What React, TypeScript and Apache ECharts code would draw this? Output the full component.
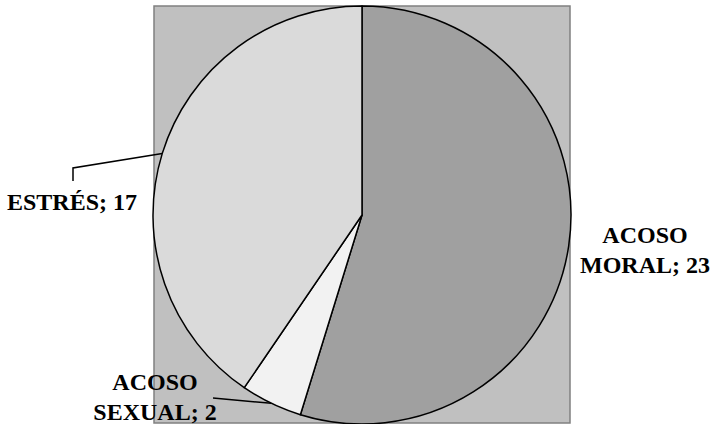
import React, { useEffect, useRef } from "react";
import * as echarts from "echarts";

// Causes and counts shown on the pie
const categories = ["ACOSO MORAL", "ACOSO SEXUAL", "ESTRÉS"];
const counts = [23, 2, 17];
const sliceColors = ["#a0a0a0", "#f2f2f2", "#dadada"];

// Where each label block sits, and where its leader line bends
const labelSpots: Record<string, { x: number; y: number; bend: number[][] | null }> = {
  "ACOSO MORAL": { x: 645, y: 250, bend: null },
  "ACOSO SEXUAL": { x: 155, y: 397, bend: [[213, 398]] },
  "ESTRÉS": { x: 72, y: 202, bend: [[73, 168], [73, 181]] },
};

export default function App() {
  const ref = useRef<HTMLDivElement>(null);

  useEffect(() => {
    if (!ref.current) return;
    const chart = echarts.init(ref.current, null, { renderer: "svg" });
    chart.setOption({
      animation: false,
      backgroundColor: "#ffffff",
      graphic: [
        {
          type: "rect",
          z: -10,
          silent: true,
          shape: { x: 154, y: 6, width: 416, height: 417 },
          style: { fill: "#c0c0c0", stroke: "#808080", lineWidth: 1.5 },
        },
      ],
      series: [
        {
          type: "pie",
          center: [362, 215],
          radius: 209,
          startAngle: 90,
          clockwise: true,
          avoidLabelOverlap: false,
          itemStyle: { borderColor: "#000000", borderWidth: 1.5 },
          emphasis: { disabled: true },
          label: {
            show: true,
            position: "outside",
            fontFamily: "Liberation Serif",
            fontWeight: "bold",
            fontSize: 24,
            lineHeight: 30,
            color: "#000000",
            align: "center",
            formatter: (p: any) => `${p.name.replace(" ", "\n")}; ${p.value}`,
          },
          labelLine: {
            show: true,
            lineStyle: { color: "#000000", width: 1.5 },
          },
          labelLayout: (params: any) => {
            const name = categories[params.dataIndex];
            const spot = labelSpots[name];
            const start = params.labelLinePoints ? params.labelLinePoints[0] : null;
            const out: any = {
              x: spot.x,
              y: spot.y,
              align: "center",
              verticalAlign: "middle",
            };
            if (spot.bend && start) {
              out.labelLinePoints = [start, ...spot.bend];
            } else {
              out.labelLinePoints = [[spot.x, spot.y], [spot.x, spot.y], [spot.x, spot.y]];
            }
            return out;
          },
          data: categories.map((name, i) => ({
            name,
            value: counts[i],
            itemStyle: { color: sliceColors[i] },
            labelLine: { show: labelSpots[name].bend !== null },
          })),
        },
      ],
    });
    return () => chart.dispose();
  }, []);

  return (
    <div
      ref={ref}
      style={{ position: "fixed", left: 0, top: 0, width: 714, height: 424 }}
    />
  );
}
